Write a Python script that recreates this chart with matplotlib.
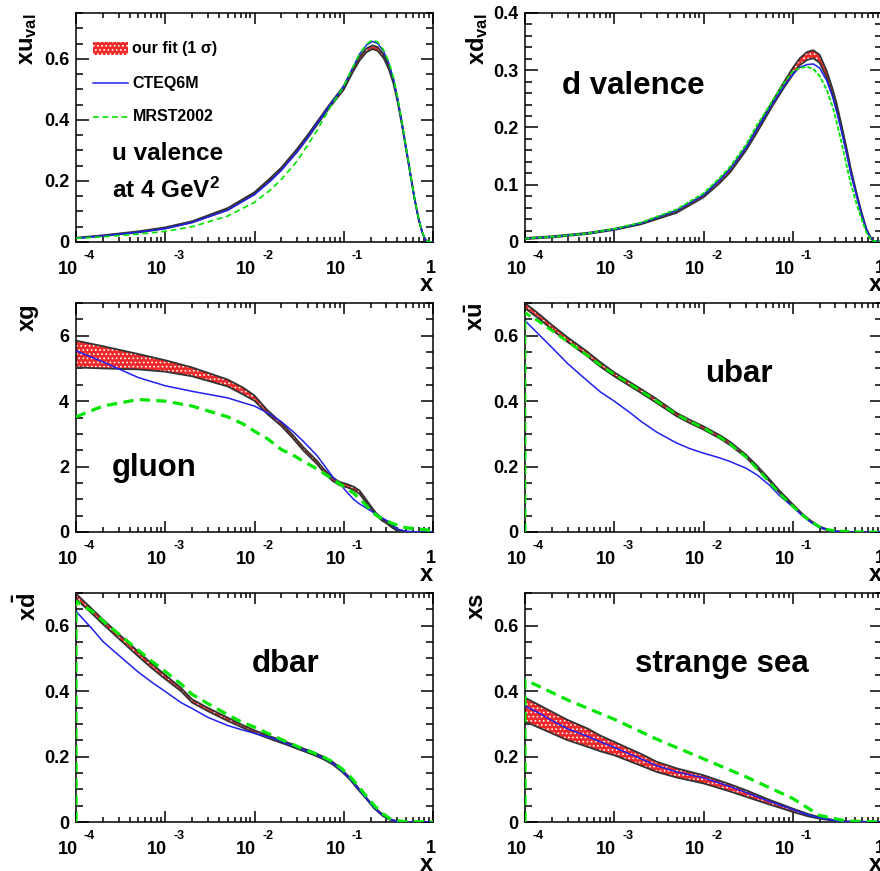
import numpy as np
import matplotlib
matplotlib.use('Agg')
import matplotlib.pyplot as plt
from matplotlib.ticker import MultipleLocator, FuncFormatter, LogLocator, NullFormatter
from matplotlib.patches import Rectangle

plt.rcParams['font.family'] = ['Liberation Sans', 'DejaVu Sans']
plt.rcParams['font.weight'] = 'bold'
plt.rcParams['mathtext.fontset'] = 'custom'
plt.rcParams['mathtext.rm'] = 'Liberation Sans:bold'
plt.rcParams['mathtext.it'] = 'Liberation Sans:bold'
plt.rcParams['mathtext.bf'] = 'Liberation Sans:bold'
plt.rcParams['mathtext.default'] = 'rm'
plt.rcParams['hatch.linewidth'] = 0.7
plt.rcParams['axes.linewidth'] = 1.1

# ---- u valence ----
x_uv = [1e-4, 2e-4, 5e-4, 1e-3, 2e-3, 5e-3, 1e-2, 1.5e-2, 2e-2, 3e-2, 4e-2, 5e-2, 7e-2, 0.1, 0.125, 0.15,
        0.18, 0.21, 0.24, 0.28, 0.32, 0.36, 0.40, 0.45, 0.50, 0.56, 0.62, 0.69, 0.76, 0.82, 0.88, 1.0]
uv_lo = [0.012, 0.020, 0.031, 0.044, 0.064, 0.105, 0.157, 0.201, 0.236, 0.295, 0.343, 0.383, 0.442, 0.499, 0.554,
         0.594, 0.622, 0.632, 0.626, 0.602, 0.566, 0.520, 0.460, 0.381, 0.301, 0.217, 0.141, 0.074, 0.029, 0.007, 0.0, 0.0]
uv_hi = [0.014, 0.022, 0.035, 0.048, 0.068, 0.111, 0.163, 0.209, 0.244, 0.305, 0.353, 0.393, 0.452, 0.511, 0.566,
         0.606, 0.634, 0.644, 0.638, 0.614, 0.578, 0.530, 0.470, 0.389, 0.309, 0.223, 0.145, 0.076, 0.031, 0.009, 0.0, 0.0]
uv_cteq = [0.012, 0.020, 0.032, 0.044, 0.064, 0.104, 0.155, 0.199, 0.235, 0.296, 0.345, 0.387, 0.448, 0.510, 0.568,
           0.615, 0.645, 0.657, 0.650, 0.624, 0.585, 0.535, 0.472, 0.388, 0.306, 0.220, 0.143, 0.075, 0.030, 0.008, 0.0, 0.0]
uv_mrst = [0.012, 0.017, 0.026, 0.035, 0.050, 0.085, 0.130, 0.170, 0.205, 0.265, 0.320, 0.365, 0.440, 0.510, 0.570,
           0.615, 0.648, 0.662, 0.655, 0.628, 0.590, 0.540, 0.475, 0.390, 0.308, 0.221, 0.144, 0.076, 0.031, 0.009, 0.001, 0.0]

# ---- d valence ----
x_dv = [1e-4, 2e-4, 5e-4, 1e-3, 2e-3, 5e-3, 1e-2, 1.5e-2, 2e-2, 3e-2, 4e-2, 5e-2, 6e-2, 8e-2, 0.1, 0.12,
        0.145, 0.17, 0.2, 0.24, 0.28, 0.31, 0.35, 0.40, 0.45, 0.52, 0.59, 0.67, 0.74, 0.8, 1.0]
dv_lo = [0.005, 0.008, 0.014, 0.021, 0.031, 0.051, 0.078, 0.102, 0.122, 0.160, 0.192, 0.218, 0.239, 0.270, 0.292, 0.309,
         0.318, 0.321, 0.313, 0.287, 0.257, 0.232, 0.198, 0.157, 0.120, 0.081, 0.048, 0.021, 0.007, 0.002, 0.0]
dv_hi = [0.007, 0.010, 0.016, 0.023, 0.033, 0.055, 0.082, 0.108, 0.128, 0.166, 0.200, 0.226, 0.247, 0.280, 0.304, 0.321,
         0.332, 0.335, 0.327, 0.299, 0.267, 0.242, 0.206, 0.165, 0.126, 0.085, 0.052, 0.023, 0.009, 0.002, 0.0]
dv_cteq = [0.006, 0.009, 0.015, 0.022, 0.033, 0.055, 0.082, 0.107, 0.128, 0.165, 0.198, 0.223, 0.243, 0.273, 0.293, 0.305,
           0.310, 0.311, 0.304, 0.282, 0.253, 0.228, 0.195, 0.155, 0.118, 0.080, 0.048, 0.021, 0.008, 0.002, 0.0]
dv_mrst = [0.006, 0.009, 0.015, 0.023, 0.034, 0.057, 0.085, 0.111, 0.132, 0.170, 0.205, 0.228, 0.248, 0.278, 0.298, 0.304,
           0.306, 0.302, 0.290, 0.266, 0.236, 0.210, 0.175, 0.135, 0.100, 0.066, 0.040, 0.016, 0.006, 0.002, 0.0]

# ---- gluon ----
x_g = [1e-4, 2e-4, 5e-4, 1e-3, 2e-3, 5e-3, 7.5e-3, 1e-2, 1.4e-2, 2e-2, 2.7e-2, 3.5e-2, 5e-2, 6e-2, 7.5e-2,
       0.09, 0.11, 0.13, 0.15, 0.175, 0.2, 0.23, 0.27, 0.3, 0.35, 0.4, 0.5, 0.7, 1.0]
g_lo = [5.03, 5.00, 4.97, 4.90, 4.76, 4.45, 4.20, 4.01, 3.60, 3.24, 2.86, 2.50, 2.08, 1.82, 1.56,
        1.43, 1.36, 1.28, 1.17, 0.93, 0.72, 0.51, 0.34, 0.27, 0.13, 0.03, 0.0, 0.0, 0.0]
g_hi = [5.85, 5.68, 5.44, 5.25, 5.03, 4.66, 4.41, 4.17, 3.72, 3.34, 2.96, 2.60, 2.18, 1.92, 1.66,
        1.53, 1.46, 1.38, 1.27, 1.02, 0.80, 0.58, 0.40, 0.33, 0.18, 0.07, 0.01, 0.0, 0.0]
g_cteq = [5.54, 5.20, 4.72, 4.47, 4.30, 4.10, 3.95, 3.85, 3.64, 3.37, 3.07, 2.78, 2.34, 2.05, 1.69,
          1.48, 1.20, 0.99, 0.86, 0.75, 0.65, 0.55, 0.43, 0.36, 0.22, 0.09, 0.02, 0.0, 0.0]
g_mrst = [3.52, 3.85, 4.05, 4.00, 3.85, 3.52, 3.30, 3.08, 2.85, 2.52, 2.35, 2.17, 1.93, 1.79, 1.62,
          1.47, 1.32, 1.18, 1.02, 0.84, 0.66, 0.52, 0.40, 0.35, 0.26, 0.21, 0.13, 0.09, 0.04]

# ---- ubar ----
x_ub = [1e-4, 1.5e-4, 2e-4, 3e-4, 5e-4, 7e-4, 1e-3, 1.5e-3, 2e-3, 3e-3, 5e-3, 7e-3, 1e-2, 1.5e-2, 2e-2,
        3e-2, 4e-2, 5.5e-2, 7e-2, 0.1, 0.13, 0.16, 0.2, 0.25, 0.3, 0.4, 0.5, 0.7, 1.0]
ub_lo = [0.684, 0.648, 0.619, 0.581, 0.537, 0.505, 0.476, 0.446, 0.425, 0.394, 0.354, 0.333, 0.313, 0.287, 0.265,
         0.228, 0.194, 0.155, 0.122, 0.079, 0.050, 0.030, 0.013, 0.005, 0.001, 0.0, 0.0, 0.0, 0.0]
ub_hi = [0.700, 0.662, 0.633, 0.595, 0.551, 0.519, 0.488, 0.458, 0.437, 0.406, 0.364, 0.343, 0.323, 0.297, 0.275,
         0.236, 0.202, 0.161, 0.128, 0.085, 0.054, 0.034, 0.017, 0.007, 0.003, 0.0, 0.0, 0.0, 0.0]
ub_cteq = [0.646, 0.598, 0.564, 0.515, 0.462, 0.428, 0.400, 0.365, 0.338, 0.305, 0.272, 0.255, 0.241, 0.227, 0.215,
           0.195, 0.174, 0.143, 0.113, 0.077, 0.048, 0.030, 0.015, 0.006, 0.002, 0.0, 0.0, 0.0, 0.0]
x_ub_mrst = [1e-4, 1e-4, 1.5e-4, 2e-4, 3e-4, 5e-4, 7e-4, 1e-3, 1.5e-3, 2e-3, 3e-3, 5e-3, 7e-3, 1e-2, 1.5e-2,
             2e-2, 3e-2, 4e-2, 5.5e-2, 7e-2, 0.1, 0.13, 0.16, 0.2, 0.25, 0.3, 0.4, 0.5, 0.7, 1.0]
ub_mrst = [0.0, 0.670, 0.640, 0.616, 0.582, 0.540, 0.510, 0.482, 0.452, 0.431, 0.400, 0.359, 0.338, 0.318, 0.291,
           0.268, 0.229, 0.193, 0.152, 0.119, 0.079, 0.050, 0.031, 0.016, 0.007, 0.004, 0.002, 0.001, 0.0, 0.0]

# ---- dbar ----
x_db = [1e-4, 1.5e-4, 2e-4, 3e-4, 5e-4, 7e-4, 1e-3, 1.5e-3, 2e-3, 3e-3, 5e-3, 7e-3, 1e-2, 1.6e-2, 2.3e-2,
        3.2e-2, 4.5e-2, 6e-2, 7.6e-2, 9.5e-2, 0.117, 0.145, 0.18, 0.22, 0.275, 0.33, 0.39, 0.5, 1.0]
db_lo = [0.682, 0.638, 0.605, 0.561, 0.506, 0.471, 0.437, 0.400, 0.365, 0.339, 0.309, 0.291, 0.272, 0.251, 0.236,
         0.221, 0.206, 0.191, 0.175, 0.154, 0.130, 0.099, 0.070, 0.041, 0.018, 0.007, 0.001, 0.0, 0.0]
db_hi = [0.698, 0.652, 0.619, 0.575, 0.520, 0.485, 0.449, 0.410, 0.375, 0.349, 0.319, 0.299, 0.280, 0.259, 0.244,
         0.229, 0.214, 0.199, 0.183, 0.160, 0.136, 0.105, 0.074, 0.045, 0.022, 0.009, 0.003, 0.0, 0.0]
db_cteq = [0.644, 0.592, 0.552, 0.510, 0.458, 0.428, 0.399, 0.365, 0.347, 0.320, 0.295, 0.283, 0.271, 0.256, 0.240,
           0.225, 0.210, 0.195, 0.179, 0.157, 0.133, 0.102, 0.072, 0.043, 0.020, 0.008, 0.002, 0.0, 0.0]
x_db_mrst = [1e-4, 1e-4, 1.5e-4, 2e-4, 3e-4, 5e-4, 7e-4, 1e-3, 1.5e-3, 2e-3, 3e-3, 5e-3, 7e-3, 1e-2, 1.6e-2,
             2.3e-2, 3.2e-2, 4.5e-2, 6e-2, 7.6e-2, 9.5e-2, 0.117, 0.145, 0.18, 0.22, 0.275, 0.33, 0.39, 0.5, 1.0]
db_mrst = [0.0, 0.675, 0.645, 0.615, 0.575, 0.525, 0.492, 0.460, 0.422, 0.390, 0.362, 0.328, 0.307, 0.290, 0.264,
           0.245, 0.228, 0.212, 0.198, 0.183, 0.163, 0.140, 0.110, 0.078, 0.050, 0.025, 0.010, 0.004, 0.001, 0.0]

# ---- strange sea ----
x_s = [1e-4, 1.5e-4, 2e-4, 3e-4, 5e-4, 7e-4, 1e-3, 2e-3, 3e-3, 5e-3, 1e-2, 2e-2, 3e-2, 5e-2,
       0.1, 0.15, 0.2, 0.3, 0.4, 1.0]
s_lo = [0.307, 0.286, 0.271, 0.250, 0.230, 0.216, 0.204, 0.172, 0.153, 0.136, 0.118, 0.093, 0.077, 0.057,
        0.031, 0.017, 0.010, 0.003, 0.0, 0.0]
s_hi = [0.380, 0.355, 0.337, 0.312, 0.286, 0.264, 0.245, 0.208, 0.184, 0.164, 0.143, 0.115, 0.097, 0.072,
        0.041, 0.024, 0.015, 0.005, 0.002, 0.0]
s_cteq = [0.355, 0.330, 0.310, 0.285, 0.262, 0.245, 0.228, 0.193, 0.172, 0.153, 0.135, 0.108, 0.090, 0.067,
          0.038, 0.021, 0.013, 0.004, 0.001, 0.0]
x_s_mrst = [1e-4, 1e-4, 3e-4, 1e-3, 3e-3, 1e-2, 3e-2, 0.1, 0.2, 0.4, 1.0]
s_mrst = [0.0, 0.435, 0.373, 0.314, 0.253, 0.193, 0.138, 0.072, 0.020, 0.003, 0.0]

x_decades = [1e-4, 1e-3, 1e-2, 1e-1]
x_exponents = ['-4', '-3', '-2', '-1']

RED = '#f02a2a'
BLUE = '#2020f0'
GREEN = '#00e600'

fig = plt.figure(figsize=(8.8, 8.71), dpi=100)
W, H = 880.0, 871.0


def make_ax(left_px, top_px):
    return fig.add_axes([left_px / W, 1 - (top_px + 229) / H, 357 / W, 229 / H])


def panel(ax, xf, lo, hi, cteq, xm, mrst, ymax, major, minor, ylabel, glw=2.0, gdash=(3.2, 2.0)):
    ax.fill_between(xf, lo, hi, facecolor=RED, edgecolor='white', hatch='....', linewidth=0, zorder=2)
    ax.plot(xf, lo, color='#333333', lw=1.3, zorder=3)
    ax.plot(xf, hi, color='#333333', lw=1.3, zorder=3)
    ax.plot(xf, cteq, color=BLUE, lw=1.1, zorder=4)
    ax.plot(xm, mrst, color=GREEN, lw=glw, dashes=gdash, zorder=5)
    ax.set_xscale('log')
    ax.set_xlim(1e-4, 1)
    ax.set_ylim(0, ymax)
    ax.xaxis.set_major_locator(LogLocator(base=10, numticks=10))
    ax.xaxis.set_minor_locator(LogLocator(base=10, subs=np.arange(2, 10), numticks=20))
    ax.xaxis.set_major_formatter(NullFormatter())
    ax.xaxis.set_minor_formatter(NullFormatter())
    ax.yaxis.set_major_locator(MultipleLocator(major))
    ax.yaxis.set_minor_locator(MultipleLocator(minor))
    ax.yaxis.set_major_formatter(FuncFormatter(lambda v, p: '%g' % round(v, 3)))
    ax.tick_params(which='both', direction='in', top=True, right=True, width=1.1, labelsize=13)
    ax.tick_params(axis='x', which='major', length=8)
    ax.tick_params(axis='x', which='minor', length=3.5)
    ax.tick_params(axis='y', which='major', length=9, pad=5)
    ax.tick_params(axis='y', which='minor', length=5)
    # ROOT style "10 ^-n" labels
    for xv, ex in zip(x_decades, x_exponents):
        ax.annotate('10', xy=(xv, 0), xycoords=('data', 'axes fraction'), xytext=(1.4, -23),
                    textcoords='offset points', ha='right', va='baseline', fontsize=13)
        ax.annotate(ex, xy=(xv, 0), xycoords=('data', 'axes fraction'), xytext=(5.6, -12),
                    textcoords='offset points', ha='left', va='baseline', fontsize=9)
    ax.annotate('1', xy=(1.0, 0), xycoords=('data', 'axes fraction'), xytext=(-1.5, -22.5),
                textcoords='offset points', ha='center', va='baseline', fontsize=13)
    ax.text(-0.135, 1.0, ylabel, rotation=90, ha='center', va='top', fontsize=17, transform=ax.transAxes)
    ax.text(1.0, -0.215, 'x', ha='right', va='baseline', fontsize=17, transform=ax.transAxes)


ax1 = make_ax(76, 13)
panel(ax1, x_uv, uv_lo, uv_hi, uv_cteq, x_uv, uv_mrst, 0.75, 0.2, 0.05, r'$xu_{val}$', glw=1.2, gdash=(3.5, 2.2))
ax1.text(0.10, 0.358, 'u valence', fontsize=17.5, va='baseline', transform=ax1.transAxes)
ax1.text(0.10, 0.192, r'at 4 GeV$^2$', fontsize=17.5, va='baseline', transform=ax1.transAxes)
# legend
ax1.add_patch(Rectangle((0.048, 0.817), 0.098, 0.056, transform=ax1.transAxes,
                        facecolor=RED, edgecolor='white', hatch='....', linewidth=0))
ax1.plot([0.048, 0.146], [0.694, 0.694], color=BLUE, lw=1.1, transform=ax1.transAxes)
ax1.plot([0.048, 0.146], [0.546, 0.546], color=GREEN, lw=1.2, dashes=(3.5, 2.2), transform=ax1.transAxes)
ax1.text(0.158, 0.845, u'our fit (1 \u03c3)', fontsize=11.5, va='center', transform=ax1.transAxes)
ax1.text(0.158, 0.694, 'CTEQ6M', fontsize=11.5, va='center', transform=ax1.transAxes)
ax1.text(0.158, 0.546, 'MRST2002', fontsize=11.5, va='center', transform=ax1.transAxes)

ax2 = make_ax(525, 13)
panel(ax2, x_dv, dv_lo, dv_hi, dv_cteq, x_dv, dv_mrst, 0.4, 0.1, 0.02, r'$xd_{val}$', glw=1.3, gdash=(2.5, 1.0))
ax2.text(0.104, 0.646, 'd valence', fontsize=22.5, va='baseline', transform=ax2.transAxes)

ax3 = make_ax(76, 303)
panel(ax3, x_g, g_lo, g_hi, g_cteq, x_g, g_mrst, 7.0, 2, 0.5, 'xg', glw=2.3)
ax3.text(0.10, 0.245, 'gluon', fontsize=22.5, va='baseline', transform=ax3.transAxes)

ax4 = make_ax(525, 303)
panel(ax4, x_ub, ub_lo, ub_hi, ub_cteq, x_ub_mrst, ub_mrst, 0.7, 0.2, 0.05, r'$x\bar{u}$')
ax4.text(0.504, 0.655, 'ubar', fontsize=22.5, va='baseline', transform=ax4.transAxes)

ax5 = make_ax(76, 593)
panel(ax5, x_db, db_lo, db_hi, db_cteq, x_db_mrst, db_mrst, 0.7, 0.2, 0.05, r'$x\bar{d}$', glw=2.3)
ax5.text(0.492, 0.655, 'dbar', fontsize=22.5, va='baseline', transform=ax5.transAxes)

ax6 = make_ax(525, 593)
panel(ax6, x_s, s_lo, s_hi, s_cteq, x_s_mrst, s_mrst, 0.7, 0.2, 0.05, 'xs', glw=2.3)
ax6.text(0.308, 0.655, 'strange sea', fontsize=22.5, va='baseline', transform=ax6.transAxes)

fig.savefig('out.png', dpi=100)
